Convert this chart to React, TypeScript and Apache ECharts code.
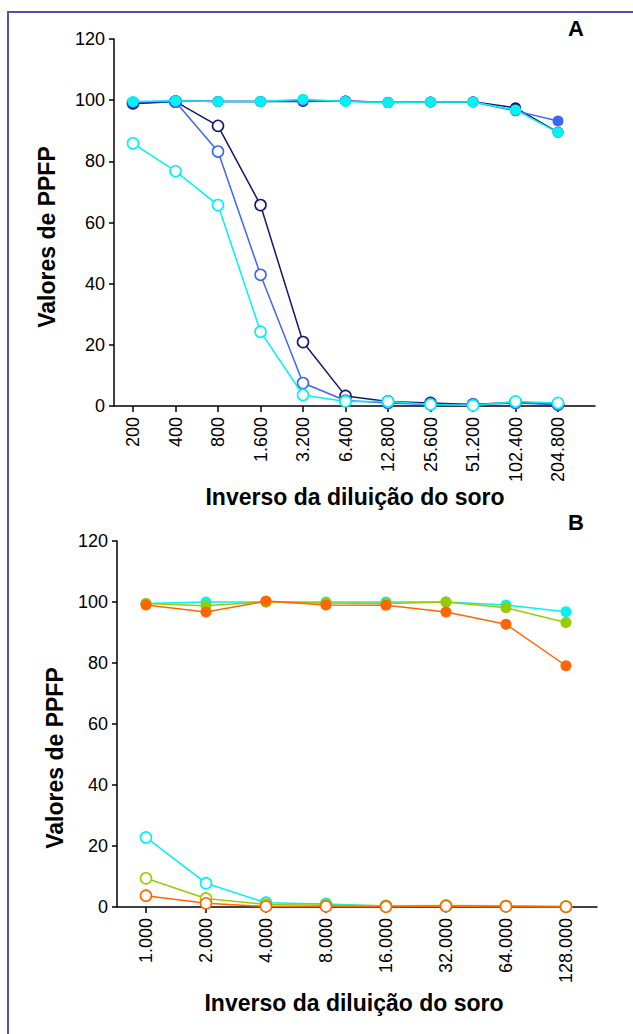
import React, { useEffect, useRef } from "react";
import * as echarts from "echarts";

// Panel A: serum dilutions 1:200 … 1:204.800
const dilutionsA = ["200", "400", "800", "1.600", "3.200", "6.400", "12.800", "25.600", "51.200", "102.400", "204.800"];
const navyFilledA = [98.8, 99.8, 99.6, 99.6, 99.6, 99.7, 99.2, 99.4, 99.5, 97.5, 89.5];
const blueFilledA = [99.2, 99.8, 99.6, 99.6, 99.8, 99.7, 99.3, 99.4, 99.4, 96.5, 93.2];
const cyanFilledA = [99.6, 99.8, 99.6, 99.6, 100.3, 99.6, 99.2, 99.4, 99.4, 96.8, 89.4];
const navyOpenA = [99.0, 99.5, 91.6, 65.7, 20.9, 3.3, 1.5, 1.0, 0.5, 1.2, 0.5];
const blueOpenA = [99.0, 99.5, 83.2, 42.9, 7.5, 1.8, 1.0, 0.5, 0.5, 1.0, 0.5];
const cyanOpenA = [85.9, 76.8, 65.7, 24.3, 3.6, 1.5, 1.5, 0.5, 0.2, 1.5, 1.0];

// Panel B: serum dilutions 1:1.000 … 1:128.000
const dilutionsB = ["1.000", "2.000", "4.000", "8.000", "16.000", "32.000", "64.000", "128.000"];
const cyanFilledB = [99.5, 100, 100, 100, 100, 100, 99, 96.8];
const greenFilledB = [99.5, 98.8, 100, 99.7, 99.5, 100, 98.1, 93.3];
const orangeFilledB = [99, 96.7, 100.3, 99, 98.9, 96.7, 92.7, 79.1];
const cyanOpenB = [22.8, 7.8, 1.4, 1.0, 0.3, 0.2, 0.2, 0.1];
const greenOpenB = [9.4, 2.8, 0.8, 0.6, 0.4, 0.5, 0.4, 0.2];
const orangeOpenB = [3.7, 1.2, 0.2, 0.2, 0.1, 0.3, 0.2, 0.1];

const yTicks = [0, 20, 40, 60, 80, 100, 120];

const NAVY = "#16166e";
const BLUE = "#3d66f5";
const CYAN = "#00f2f2";
const GREEN = "#99cc00";
const ORANGE = "#ff6600";

const FONT = "'Liberation Sans', Arial, Helvetica, sans-serif";

function makeSeries(values: number[], color: string, filled: boolean, axis: number, z: number) {
  return {
    type: "line",
    xAxisIndex: axis,
    yAxisIndex: axis,
    data: values.map((v, i) => [i, v]),
    symbol: "circle",
    symbolSize: 11,
    z,
    lineStyle: { color, width: 1.5 },
    itemStyle: {
      color: filled ? color : "#ffffff",
      borderColor: color,
      borderWidth: filled ? 0 : 1.6,
    },
    emphasis: { disabled: true },
  };
}

function xAxisFor(cats: string[], grid: number, min: number, max: number) {
  const idx = cats.map((_, i) => i);
  return {
    type: "value",
    gridIndex: grid,
    min,
    max,
    splitLine: { show: false },
    axisLine: { show: true, onZero: false, lineStyle: { color: "#000", width: 1.5 } },
    axisTick: { show: true, customValues: idx, length: 6, lineStyle: { color: "#000", width: 1.5 } },
    axisLabel: {
      customValues: idx,
      formatter: (v: number) => cats[Math.round(v)] ?? "",
      rotate: 90,
      margin: 11,
      color: "#000",
      fontSize: 18,
      fontFamily: FONT,
    },
  };
}

function yAxisFor(grid: number) {
  return {
    type: "value",
    gridIndex: grid,
    min: yTicks[0],
    max: yTicks[yTicks.length - 1],
    interval: 20,
    splitLine: { show: false },
    axisLine: { show: true, onZero: false, lineStyle: { color: "#000", width: 1.5 } },
    axisTick: { show: true, length: 5, lineStyle: { color: "#000", width: 1.5 } },
    axisLabel: { color: "#000", fontSize: 18, fontFamily: FONT, margin: 9 },
  };
}

export default function App() {
  const ref = useRef<HTMLDivElement>(null);

  useEffect(() => {
    if (!ref.current) return;
    const chart = echarts.init(ref.current, null, { renderer: "svg" });
    const titleStyle = { fill: "#000", fontSize: 23, fontWeight: "bold", fontFamily: FONT, align: "center", verticalAlign: "middle" };
    chart.setOption({
      animation: false,
      backgroundColor: "#ffffff",
      grid: [
        { left: 114, top: 39, width: 481, height: 367, outerBoundsMode: "none", containLabel: false },
        { left: 117, top: 541, width: 480, height: 366, outerBoundsMode: "none", containLabel: false },
      ],
      xAxis: [xAxisFor(dilutionsA, 0, -0.447, 10.87), xAxisFor(dilutionsB, 1, -0.483, 7.517)],
      yAxis: [yAxisFor(0), yAxisFor(1)],
      series: [
        makeSeries(navyOpenA, NAVY, false, 0, 2),
        makeSeries(blueOpenA, BLUE, false, 0, 3),
        makeSeries(cyanOpenA, CYAN, false, 0, 4),
        makeSeries(navyFilledA, NAVY, true, 0, 5),
        makeSeries(blueFilledA, BLUE, true, 0, 6),
        makeSeries(cyanFilledA, CYAN, true, 0, 7),
        makeSeries(cyanOpenB, CYAN, false, 1, 2),
        makeSeries(greenOpenB, GREEN, false, 1, 3),
        makeSeries(orangeOpenB, ORANGE, false, 1, 4),
        makeSeries(cyanFilledB, CYAN, true, 1, 5),
        makeSeries(greenFilledB, GREEN, true, 1, 6),
        makeSeries(orangeFilledB, ORANGE, true, 1, 7),
      ],
      graphic: [
        {
          type: "rect",
          shape: { x: 8, y: 12, width: 700, height: 1100 },
          style: { fill: "none", stroke: "#5252ae", lineWidth: 2 },
          silent: true,
        },
        { type: "text", x: 576, y: 28, style: { ...titleStyle, text: "A", fontSize: 22 } },
        { type: "text", x: 576, y: 522, style: { ...titleStyle, text: "B", fontSize: 22 } },
        { type: "text", x: 47, y: 237, rotation: Math.PI / 2, style: { ...titleStyle, text: "Valores de PPFP" } },
        { type: "text", x: 55, y: 758, rotation: Math.PI / 2, style: { ...titleStyle, text: "Valores de PPFP" } },
        { type: "text", x: 355, y: 497, style: { ...titleStyle, text: "Inverso da diluição do soro" } },
        { type: "text", x: 354, y: 1003, style: { ...titleStyle, text: "Inverso da diluição do soro" } },
      ],
    });
    return () => chart.dispose();
  }, []);

  return (
    <div
      ref={ref}
      style={{ position: "absolute", left: 0, top: 0, width: 633, height: 1034 }}
    />
  );
}
